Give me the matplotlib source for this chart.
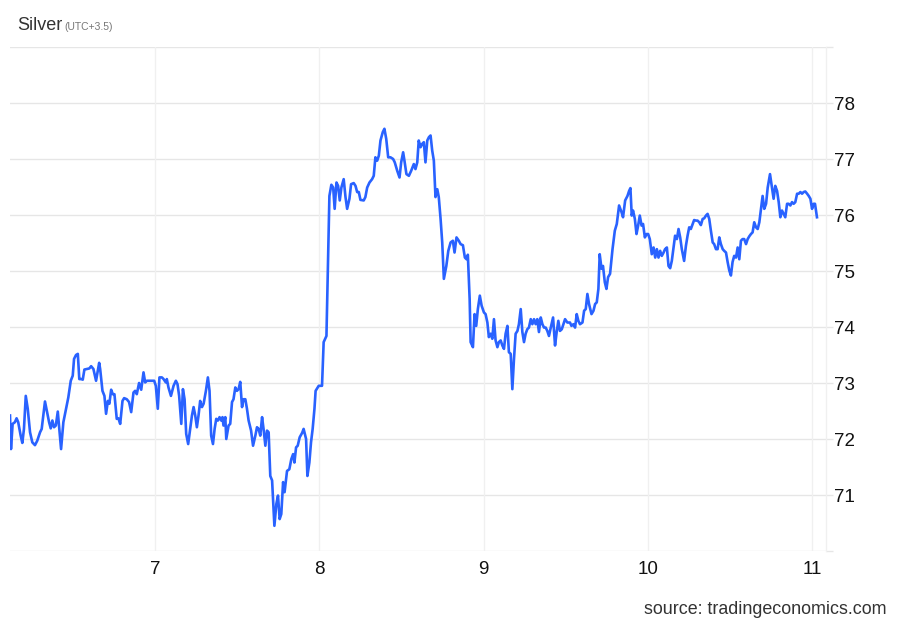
import numpy as np
import matplotlib
matplotlib.use('Agg')
import matplotlib.pyplot as plt

plt.rcParams['font.family'] = ['Liberation Sans', 'DejaVu Sans']

# time in days (day of month), silver price
days = [
    6.116, 6.122, 6.132, 6.146, 6.156, 6.166, 6.181, 6.191, 6.201, 6.212,
    6.224, 6.238, 6.252, 6.268, 6.282, 6.299, 6.309, 6.329, 6.340, 6.354,
    6.364, 6.374, 6.384, 6.395, 6.407, 6.416, 6.427, 6.441, 6.457, 6.471,
    6.486, 6.498, 6.506, 6.518, 6.529, 6.538, 6.549, 6.559, 6.569, 6.584,
    6.599, 6.610, 6.624, 6.640, 6.659, 6.665, 6.679, 6.691, 6.701, 6.712,
    6.721, 6.732, 6.742, 6.752, 6.766, 6.776, 6.787, 6.801, 6.811, 6.827,
    6.841, 6.854, 6.868, 6.878, 6.888, 6.902, 6.915, 6.929, 6.939, 6.949,
    6.970, 6.994, 7.004, 7.016, 7.026, 7.041, 7.051, 7.065, 7.071, 7.081,
    7.096, 7.112, 7.126, 7.136, 7.146, 7.159, 7.169, 7.179, 7.189, 7.201,
    7.213, 7.224, 7.234, 7.244, 7.254, 7.264, 7.274, 7.285, 7.295, 7.309,
    7.321, 7.331, 7.341, 7.352, 7.362, 7.372, 7.382, 7.392, 7.402, 7.410,
    7.416, 7.427, 7.433, 7.447, 7.457, 7.468, 7.477, 7.488, 7.498, 7.508,
    7.518, 7.529, 7.538, 7.549, 7.559, 7.569, 7.584, 7.596, 7.610, 7.620,
    7.630, 7.640, 7.651, 7.660, 7.671, 7.681, 7.691, 7.701, 7.712, 7.726,
    7.738, 7.748, 7.758, 7.768, 7.779, 7.788, 7.803, 7.817, 7.829, 7.840,
    7.848, 7.858, 7.868, 7.880, 7.895, 7.904, 7.919, 7.927, 7.939, 7.949,
    7.959, 7.970, 7.977, 7.996, 8.016, 8.026, 8.043, 8.053, 8.061, 8.073,
    8.084, 8.093, 8.104, 8.114, 8.124, 8.134, 8.148, 8.159, 8.169, 8.183,
    8.193, 8.209, 8.220, 8.230, 8.240, 8.250, 8.270, 8.280, 8.291, 8.305,
    8.321, 8.331, 8.341, 8.352, 8.362, 8.372, 8.386, 8.396, 8.407, 8.419,
    8.433, 8.449, 8.459, 8.474, 8.488, 8.498, 8.510, 8.518, 8.530, 8.545,
    8.559, 8.575, 8.585, 8.596, 8.605, 8.616, 8.626, 8.636, 8.646, 8.657,
    8.667, 8.677, 8.687, 8.697, 8.707, 8.718, 8.727, 8.738, 8.748, 8.758,
    8.773, 8.785, 8.799, 8.813, 8.823, 8.835, 8.849, 8.860, 8.874, 8.886,
    8.896, 8.904, 8.915, 8.921, 8.935, 8.945, 8.955, 8.965, 8.977, 8.988,
    9.002, 9.012, 9.023, 9.032, 9.043, 9.053, 9.063, 9.073, 9.084, 9.093,
    9.104, 9.114, 9.124, 9.134, 9.145, 9.154, 9.165, 9.175, 9.185, 9.195,
    9.206, 9.215, 9.226, 9.236, 9.246, 9.256, 9.266, 9.276, 9.287, 9.297,
    9.307, 9.317, 9.327, 9.337, 9.348, 9.358, 9.368, 9.378, 9.388, 9.398,
    9.409, 9.423, 9.435, 9.445, 9.455, 9.465, 9.476, 9.486, 9.496, 9.510,
    9.526, 9.535, 9.547, 9.557, 9.567, 9.577, 9.587, 9.602, 9.612, 9.622,
    9.632, 9.642, 9.657, 9.669, 9.679, 9.689, 9.699, 9.707, 9.718, 9.727,
    9.738, 9.748, 9.758, 9.770, 9.785, 9.799, 9.811, 9.825, 9.840, 9.849,
    9.862, 9.876, 9.886, 9.894, 9.902, 9.910, 9.921, 9.931, 9.941, 9.951,
    9.962, 9.971, 9.982, 9.992, 10.002, 10.012, 10.024, 10.035, 10.045, 10.055,
    10.065, 10.075, 10.085, 10.096, 10.105, 10.116, 10.126, 10.136, 10.146, 10.157,
    10.166, 10.177, 10.187, 10.197, 10.207, 10.221, 10.232, 10.242, 10.252, 10.262,
    10.273, 10.282, 10.293, 10.303, 10.313, 10.323, 10.334, 10.343, 10.354, 10.364,
    10.374, 10.384, 10.395, 10.404, 10.415, 10.425, 10.435, 10.445, 10.456, 10.465,
    10.476, 10.486, 10.496, 10.506, 10.516, 10.526, 10.537, 10.547, 10.557, 10.567,
    10.577, 10.587, 10.598, 10.608, 10.618, 10.628, 10.638, 10.648, 10.659, 10.669,
    10.679, 10.689, 10.699, 10.709, 10.720, 10.730, 10.744, 10.756, 10.766, 10.776,
    10.787, 10.797, 10.807, 10.817, 10.827, 10.837, 10.848, 10.858, 10.868, 10.878,
    10.888, 10.898, 10.909, 10.919, 10.929, 10.939, 10.949, 10.959, 10.970, 10.980,
    10.990, 11.000, 11.010, 11.018, 11.030,
]
price = [
    72.42, 71.82, 72.27, 72.30, 72.37, 72.30, 72.06, 71.93, 72.18, 72.77,
    72.54, 72.12, 71.94, 71.89, 71.97, 72.12, 72.18, 72.67, 72.51, 72.30,
    72.19, 72.33, 72.21, 72.24, 72.49, 72.18, 71.82, 72.30, 72.54, 72.74,
    73.04, 73.13, 73.43, 73.50, 73.52, 73.07, 73.07, 73.06, 73.24, 73.25,
    73.26, 73.30, 73.25, 73.04, 73.36, 73.25, 72.86, 72.77, 72.45, 72.68,
    72.63, 72.88, 72.80, 72.80, 72.36, 72.37, 72.27, 72.68, 72.73, 72.71,
    72.66, 72.48, 72.83, 72.86, 72.80, 73.00, 72.88, 73.19, 73.01, 73.04,
    73.04, 73.04, 72.95, 72.54, 73.10, 73.10, 73.07, 73.01, 73.07, 72.92,
    72.77, 72.95, 73.04, 72.98, 72.77, 72.27, 72.89, 72.71, 72.09, 71.91,
    72.18, 72.42, 72.57, 72.42, 72.21, 72.42, 72.68, 72.57, 72.63, 72.86,
    73.10, 72.86, 72.06, 71.91, 72.18, 72.36, 72.33, 72.39, 72.33, 72.39,
    72.24, 72.39, 72.00, 72.24, 72.27, 72.66, 72.71, 72.92, 72.86, 72.89,
    73.02, 72.57, 72.71, 72.71, 72.54, 72.33, 72.15, 71.88, 72.06, 72.21,
    72.18, 72.06, 72.39, 72.18, 71.88, 72.15, 72.12, 71.34, 71.26, 70.45,
    70.84, 70.99, 70.57, 70.66, 71.23, 71.05, 71.43, 71.46, 71.64, 71.73,
    71.58, 71.85, 71.88, 72.03, 72.11, 72.18, 72.00, 71.34, 71.58, 71.94,
    72.18, 72.54, 72.86, 72.95, 72.95, 73.73, 73.84, 75.21, 76.34, 76.54,
    76.49, 76.11, 76.58, 76.52, 76.26, 76.49, 76.64, 76.32, 76.11, 76.29,
    76.55, 76.57, 76.52, 76.41, 76.41, 76.27, 76.26, 76.32, 76.49, 76.58,
    76.64, 76.70, 77.03, 76.97, 77.06, 77.33, 77.48, 77.54, 77.36, 77.03,
    77.03, 77.00, 76.94, 76.79, 76.67, 76.94, 77.12, 76.97, 76.73, 76.70,
    76.79, 76.91, 76.82, 76.94, 77.33, 77.21, 77.27, 77.30, 76.94, 77.33,
    77.39, 77.42, 77.15, 76.97, 76.32, 76.46, 76.32, 75.93, 75.51, 74.86,
    75.09, 75.36, 75.51, 75.54, 75.33, 75.60, 75.54, 75.48, 75.46, 75.24,
    75.21, 75.29, 74.50, 73.73, 73.64, 74.23, 74.02, 74.32, 74.56, 74.38,
    74.26, 74.23, 74.08, 73.82, 73.88, 73.79, 74.14, 73.76, 73.64, 73.73,
    73.76, 73.67, 73.61, 73.88, 74.02, 73.55, 73.52, 72.89, 73.43, 73.88,
    73.93, 74.05, 74.32, 73.91, 73.73, 73.88, 73.96, 73.99, 74.14, 74.05,
    74.14, 74.05, 74.14, 73.91, 74.17, 74.05, 73.99, 73.99, 73.93, 73.84,
    73.99, 74.17, 73.67, 73.91, 74.11, 73.93, 73.96, 74.05, 74.14, 74.08,
    74.08, 74.02, 74.05, 73.99, 74.23, 74.11, 74.05, 74.08, 74.29, 74.32,
    74.59, 74.41, 74.23, 74.29, 74.41, 74.44, 74.68, 75.30, 75.04, 75.09,
    74.80, 74.68, 74.89, 74.95, 75.39, 75.72, 75.84, 76.17, 76.05, 75.96,
    76.26, 76.34, 76.43, 76.48, 75.99, 76.08, 75.93, 75.66, 75.81, 75.99,
    75.81, 75.84, 75.60, 75.66, 75.66, 75.57, 75.30, 75.42, 75.24, 75.39,
    75.24, 75.36, 75.27, 75.33, 75.39, 75.42, 75.09, 75.05, 75.18, 75.42,
    75.63, 75.57, 75.75, 75.60, 75.39, 75.18, 75.45, 75.63, 75.78, 75.75,
    75.84, 75.91, 75.90, 75.90, 75.87, 75.82, 75.93, 75.94, 75.99, 76.02,
    75.93, 75.72, 75.51, 75.48, 75.39, 75.39, 75.60, 75.48, 75.39, 75.36,
    75.33, 75.16, 75.01, 74.92, 75.16, 75.27, 75.24, 75.42, 75.21, 75.54,
    75.57, 75.57, 75.48, 75.57, 75.62, 75.66, 75.69, 75.87, 75.78, 75.75,
    75.87, 76.11, 76.34, 76.11, 76.20, 76.49, 76.73, 76.49, 76.29, 76.52,
    76.43, 76.23, 75.96, 76.08, 76.02, 75.96, 76.20, 76.20, 76.17, 76.23,
    76.20, 76.23, 76.38, 76.38, 76.41, 76.38, 76.41, 76.42, 76.38, 76.34,
    76.29, 76.11, 76.20, 76.20, 75.96,
]

x_ticks = [7, 8, 9, 10, 11]
y_ticks = [70, 71, 72, 73, 74, 75, 76, 77, 78, 79]
y_labels = ['', '71', '72', '73', '74', '75', '76', '77', '78', '']

grid_col = '#e6e6e6'
vgrid_col = '#f0f0f0'

fig = plt.figure(figsize=(9, 6.24), dpi=100)
ax = fig.add_axes([10 / 900, 73 / 624, 816 / 900, 504 / 624])

ax.plot(days, price, color='#2962ff', linewidth=1.9, solid_joinstyle='round')

ax.set_xlim(6.116, 11.085)
ax.set_ylim(70, 79)
ax.set_xticks(x_ticks)
ax.set_xticklabels([str(t) for t in x_ticks])
ax.set_yticks(y_ticks)
ax.set_yticklabels(y_labels)

ax.yaxis.tick_right()
ax.tick_params(axis='y', length=5, width=1, color=grid_col, pad=1, labelsize=13.5, labelcolor='#111111')
ax.tick_params(axis='x', length=0, pad=7, labelsize=13.5, labelcolor='#111111')

for y in y_ticks:
    ax.axhline(y, color=grid_col, linewidth=1, zorder=0)
for x in x_ticks:
    ax.axvline(x, color=vgrid_col, linewidth=1, zorder=0)

for s in ['top', 'left', 'bottom']:
    ax.spines[s].set_visible(False)
ax.spines['right'].set_color(vgrid_col)
ax.spines['right'].set_linewidth(1)

fig.text(17 / 900, 1 - 25 / 624, 'Silver', fontsize=13, color='#333333', va='center', ha='left')
fig.text(64 / 900, 1 - 27 / 624, '(UTC+3.5)', fontsize=7.5, color='#777777', va='center', ha='left')
fig.text(887 / 900, 1 - 609 / 624, 'source: tradingeconomics.com', fontsize=12.9, color='#333333',
         va='center', ha='right')

fig.savefig('out.png', dpi=100, facecolor='white')
